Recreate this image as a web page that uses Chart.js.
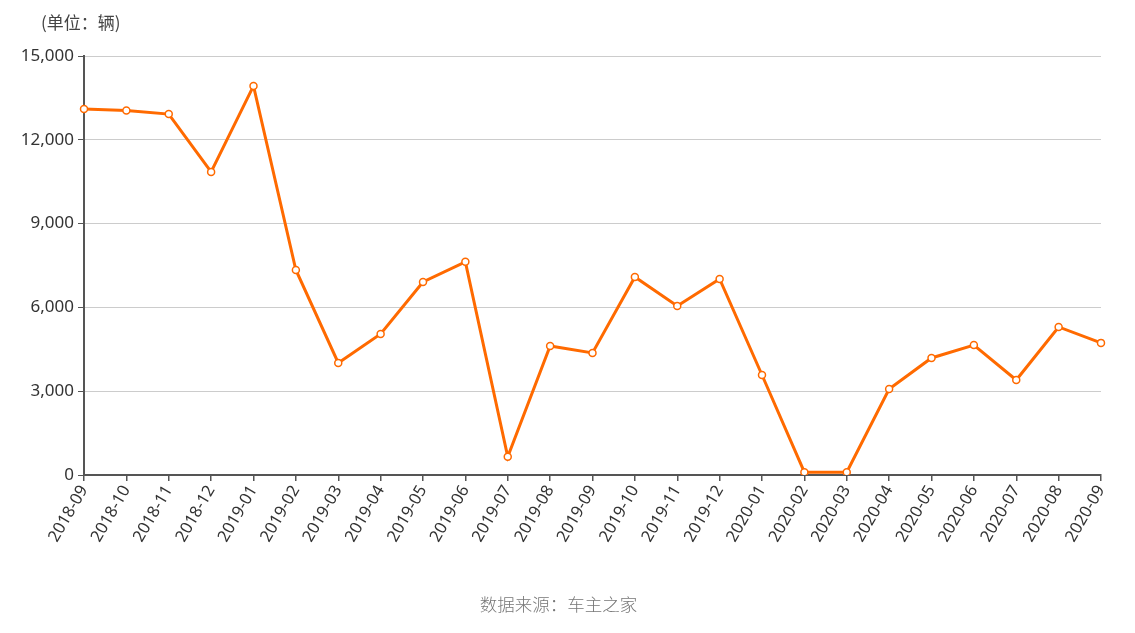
<!DOCTYPE html>
<html>
<head>
<meta charset="utf-8">
<script src="https://cdn.jsdelivr.net/npm/chart.js@4"></script>
<style>
html,body{margin:0;padding:0;background:#fff;}
#wrap{position:relative;width:1135px;height:633px;}
#unit{position:absolute;left:41px;top:9px;font:17px "Noto Sans CJK SC","Noto Sans",sans-serif;color:#444;}
#src{position:absolute;left:-9px;width:1135px;top:591px;text-align:center;font:17.5px "Noto Sans CJK SC","Noto Sans",sans-serif;font-weight:300;color:#777;}
canvas{position:absolute;left:0;top:0;}
</style>
</head>
<body>
<div id="wrap">
<canvas id="c" width="1135" height="633"></canvas>
<div id="unit">(单位：辆)</div>
<div id="src">数据来源：车主之家</div>
</div>
<script>
const categories = ["2018-09","2018-10","2018-11","2018-12","2019-01","2019-02","2019-03","2019-04","2019-05","2019-06","2019-07","2019-08","2019-09","2019-10","2019-11","2019-12","2020-01","2020-02","2020-03","2020-04","2020-05","2020-06","2020-07","2020-08","2020-09"];
const sales = [13100,13050,12920,10850,13930,7340,4010,5050,6910,7630,650,4620,4370,7090,6050,7020,3580,100,100,3080,4190,4650,3400,5300,4730];
const yTicks = [0,3000,6000,9000,12000,15000];

const font = {family:'"Noto Sans","Noto Sans CJK SC",sans-serif'};
new Chart(document.getElementById('c'), {
  type:'line',
  data:{labels:categories, datasets:[{
    data:sales,
    borderColor:'#ff6a00',
    borderWidth:3,
    pointRadius:3.5,
    pointBorderWidth:1.5,
    pointBackgroundColor:'#fff',
    pointBorderColor:'#ff6a00',
    tension:0
  }]},
  options:{
    responsive:false,
    animation:false,
    layout:{padding:{top:56,right:34,left:0,bottom:0}},
    plugins:{legend:{display:false},tooltip:{enabled:false}},
    scales:{
      x:{
        offset:false,
        grid:{drawOnChartArea:false,tickLength:6,tickColor:'#555',lineWidth:1.5},
        border:{color:'#555',width:2},
        ticks:{color:'#333',font:{...font,size:16.5},minRotation:60,maxRotation:60,autoSkip:false,padding:1},
        afterFit(s){s.height=158;}
      },
      y:{
        min:0,max:15000,
        afterBuildTicks(s){s.ticks=yTicks.map(v=>({value:v}));},
        grid:{color:'#ccc',tickLength:6,tickColor:'#555',lineWidth:1},
        border:{color:'#555',width:2},
        ticks:{color:'#333',font:{...font,size:17},padding:4,callback:v=>v.toLocaleString('en-US')},
        afterFit(s){s.width=84;}
      }
    }
  }
});
</script>
</body>
</html>
